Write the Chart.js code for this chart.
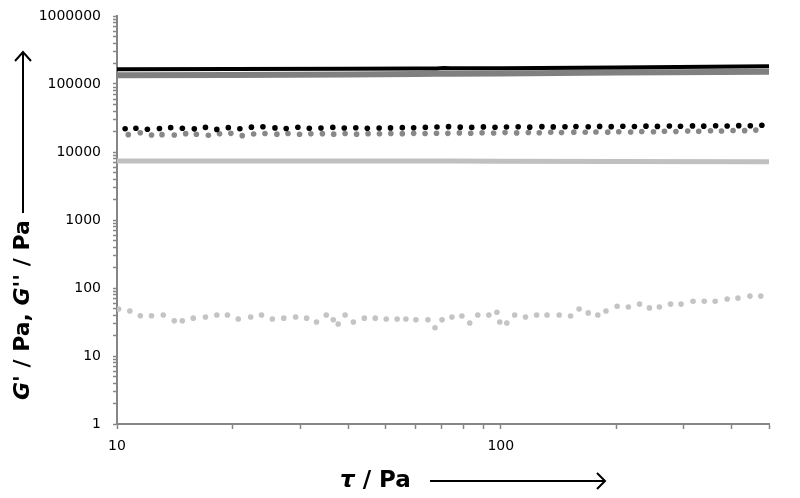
<!DOCTYPE html>
<html>
<head>
<meta charset="utf-8">
<script src="https://cdn.jsdelivr.net/npm/chart.js@4.4.0/dist/chart.umd.min.js"></script>
<style>
  html, body { margin: 0; padding: 0; background: #fff; }
</style>
</head>
<body>
<canvas id="chart" width="800" height="498"></canvas>
<script>
// shear stress sweep, tau / Pa
var lineX = [10, 20, 40, 60, 68, 71, 74, 100, 200, 500];
var gBlack = [165000, 166000, 168000, 169000, 169000, 172000, 170000, 171000, 175000, 182000];
var gGray = [134000, 136000, 138000, 140000, 141000, 141000, 141000, 143000, 147000, 152000];
var gLight = [7400, 7400, 7400, 7350, 7350, 7350, 7350, 7300, 7250, 7200];

var xBlackDots = [10.5, 11.2, 12.0, 12.9, 13.8, 14.8, 15.9, 17.0, 18.2, 19.5, 20.9, 22.4, 24.0, 25.8,
  27.6, 29.6, 31.7, 34.0, 36.5, 39.1, 41.9, 44.9, 48.2, 51.6, 55.4, 59.3, 63.6, 68.2, 73.1, 78.4,
  84.0, 90.1, 96.6, 103.5, 111, 119, 128, 137, 147, 157, 169, 181, 194, 208, 223, 239, 256, 275,
  294, 316, 338, 363, 389, 417, 447, 479];
var blackDots = [22000, 22400, 21600, 22200, 22800, 22400, 21900, 23000, 21500, 22800, 22000, 23200,
  23500, 22600, 22200, 23100, 22400, 22500, 23000, 22500, 22700, 22300, 22500, 22600, 22800, 22700,
  23000, 23300, 23600, 23200, 23000, 23400, 23100, 23300, 23500, 23200, 23600, 23400, 23500, 23700,
  23500, 23800, 23600, 23900, 23700, 24000, 23800, 24100, 23900, 24200, 24000, 24300, 24100, 24400,
  24300, 24700];

var xGrayDots = [10.7, 11.5, 12.3, 13.1, 14.1, 15.1, 16.1, 17.3, 18.5, 19.8, 21.2, 22.7, 24.3, 26.1,
  27.9, 29.9, 32.0, 34.3, 36.7, 39.3, 42.1, 45.1, 48.3, 51.7, 55.4, 59.3, 63.5, 68.0, 72.8, 78.0,
  83.5, 89.4, 95.8, 102.6, 110, 118, 126, 135, 144, 155, 166, 177, 190, 203, 218, 233, 250, 267,
  286, 307, 328, 352, 376, 403, 432, 462];
var grayDots = [18000, 19200, 17800, 18000, 17800, 18600, 18200, 17600, 18500, 18800, 17400, 18400,
  18700, 18300, 18700, 18200, 18500, 18600, 18300, 18700, 18300, 18600, 18500, 18700, 18600, 18800,
  18700, 18900, 18800, 19100, 18900, 19200, 19000, 19300, 19100, 19400, 19200, 19500, 19300, 19600,
  19500, 19700, 19600, 19900, 19700, 20000, 19900, 20200, 20000, 20300, 20200, 20500, 20400, 20700,
  20600, 21000];

var xLowDots = [10.1, 10.8, 11.5, 12.3, 13.2, 14.1, 14.8, 15.8, 17.0, 18.2, 19.4, 20.7, 22.3, 23.8,
  25.4, 27.2, 29.2, 31.2, 33.1, 35.1, 36.6, 37.7, 39.3, 41.3, 44.1, 47.1, 50.3, 53.7, 56.6, 60.1,
  64.6, 67.4, 70.3, 74.6, 79.2, 83.0, 87.1, 93.1, 97.7, 99.4, 103.7, 108.7, 116, 124, 132, 142,
  152, 160, 169, 179, 188, 201, 215, 230, 244, 259, 277, 295, 317, 339, 362, 389, 415, 446, 476];
var lowDots = [49, 46, 39, 39, 40, 33, 33, 36, 37.5, 40, 40, 35, 37.5, 40, 35, 36, 37.5, 36, 31.6,
  40, 34, 29.6, 40, 31.6, 36, 36, 35, 35, 35, 34, 34, 26, 34, 37.5, 38.7, 30.6, 40, 40, 44, 31.6,
  30.6, 40, 37.5, 40, 40, 40, 38.7, 49, 43, 40, 46, 54, 52.6, 58, 51, 52.6, 58, 58, 64, 64, 64,
  69, 71, 76, 76];

var xTicks = [10, 20, 30, 40, 50, 60, 70, 80, 90, 100, 200, 300, 400, 500];
var xLabels = [10, 100];
var yLabels = [1, 10, 100, 1000, 10000, 100000, 1000000];

function pairs(xs, ys) {
  var out = [];
  for (var i = 0; i < xs.length; i++) out.push({ x: xs[i], y: ys[i] });
  return out;
}

function yTickList() {
  var list = [];
  for (var d = 0; d < 6; d++) {
    for (var m = 1; m < 10; m++) list.push({ value: m * Math.pow(10, d) });
  }
  list.push({ value: 1000000 });
  return list;
}

function drawRuns(ctx, runs, x, y) {
  for (var i = 0; i < runs.length; i++) {
    ctx.font = runs[i][1];
    ctx.fillText(runs[i][0], x, y);
    x += ctx.measureText(runs[i][0]).width;
  }
}

var titlePlugin = {
  id: 'titles',
  afterDraw: function (chart) {
    var ctx = chart.ctx;
    ctx.save();
    ctx.fillStyle = '#000';
    ctx.strokeStyle = '#000';
    ctx.lineWidth = 2;
    ctx.textBaseline = 'middle';

    // x title + arrow
    drawRuns(ctx, [['\u03c4', 'italic bold 23px "DejaVu Sans"'], [' / Pa', 'bold 23px "DejaVu Sans"']], 340, 481);
    ctx.beginPath();
    ctx.moveTo(430, 481); ctx.lineTo(605, 481);
    ctx.moveTo(597, 473); ctx.lineTo(605, 481); ctx.lineTo(597, 489);
    ctx.stroke();

    // y title + arrow
    var it = 'italic bold 22px "DejaVu Sans"';
    var bd = 'bold 22px "DejaVu Sans"';
    ctx.save();
    ctx.translate(23, 400);
    ctx.rotate(-Math.PI / 2);
    drawRuns(ctx, [['G', it], ["' / Pa, ", bd], ['G', it], ["'' / Pa", bd]], 0, 0);
    ctx.restore();
    ctx.beginPath();
    ctx.moveTo(23, 213); ctx.lineTo(23, 52);
    ctx.moveTo(15, 61); ctx.lineTo(23, 52); ctx.lineTo(31, 61);
    ctx.stroke();
    ctx.restore();
  }
};

var tickFont = { family: '"DejaVu Sans"', size: 14 };
var axisGray = '#868686';

var ctx = document.getElementById('chart').getContext('2d');
var chart = new Chart(ctx, {
  type: 'line',
  data: {
    datasets: [
      { label: 'G1', data: pairs(lineX, gBlack), borderColor: '#000', borderWidth: 4, pointRadius: 0 },
      { label: 'G2', data: pairs(lineX, gGray), borderColor: '#808080', borderWidth: 6, pointRadius: 0 },
      { label: 'D1', data: pairs(xBlackDots, blackDots), showLine: false, pointRadius: 2.8,
        pointBorderWidth: 0, pointBackgroundColor: '#000' },
      { label: 'D2', data: pairs(xGrayDots, grayDots), showLine: false, pointRadius: 2.8,
        pointBorderWidth: 0, pointBackgroundColor: '#888' },
      { label: 'G3', data: pairs(lineX, gLight), borderColor: '#c0c0c0', borderWidth: 5, pointRadius: 0 },
      { label: 'D3', data: pairs(xLowDots, lowDots), showLine: false, pointRadius: 2.8,
        pointBorderWidth: 0, pointBackgroundColor: '#c4c4c4' }
    ]
  },
  options: {
    responsive: false,
    animation: false,
    layout: { padding: { left: 0, top: 16, right: 31, bottom: 0 } },
    plugins: { legend: { display: false }, tooltip: { enabled: false } },
    scales: {
      x: {
        type: 'logarithmic', min: 10, max: 500,
        afterBuildTicks: function (s) { s.ticks = xTicks.map(function (v) { return { value: v }; }); },
        afterFit: function (s) { s.height = 74; s.paddingLeft = 0; s.paddingRight = 0; },
        ticks: {
          autoSkip: false, maxRotation: 0, padding: 9, color: '#000', font: tickFont,
          callback: function (v) { return xLabels.indexOf(v) >= 0 ? String(v) : ''; }
        },
        grid: { drawOnChartArea: false, tickLength: 5, tickColor: axisGray, tickWidth: 1.5 },
        border: { color: axisGray, width: 2 }
      },
      y: {
        type: 'logarithmic', min: 1, max: 1000000,
        afterBuildTicks: function (s) { s.ticks = yTickList(); },
        afterFit: function (s) { s.width = 117; s.paddingTop = 0; s.paddingBottom = 0; },
        ticks: {
          autoSkip: false, padding: 12, color: '#000', font: tickFont,
          callback: function (v) { return yLabels.indexOf(v) >= 0 ? String(v) : ''; }
        },
        grid: { drawOnChartArea: false, tickLength: 4, tickColor: axisGray, tickWidth: 1.5 },
        border: { color: axisGray, width: 2 }
      }
    }
  },
  plugins: [titlePlugin]
});
</script>
</body>
</html>
